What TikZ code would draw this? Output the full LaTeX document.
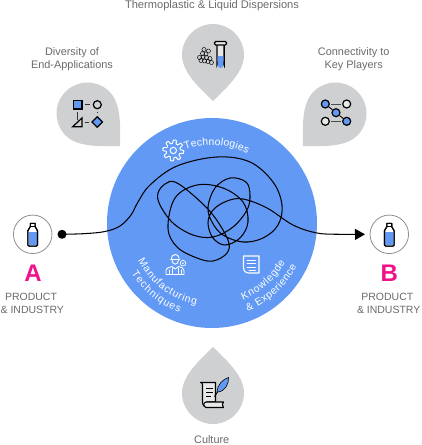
\documentclass[tikz,border=0pt]{standalone}
\usepackage{fontspec}
\setmainfont{Liberation Sans}
\usetikzlibrary{arrows.meta,decorations.text,shapes.geometric}
\definecolor{dropgray}{HTML}{CFD0D1}
\definecolor{mainblue}{HTML}{6299F5}
\definecolor{labelgray}{HTML}{6A6A6A}
\definecolor{pinkletter}{HTML}{F0128C}
\definecolor{ringgray}{HTML}{8F8F8F}
\definecolor{paperlight}{HTML}{E8E8E8}
\newcommand{\dropshape}[3]{%
  \fill[dropgray,shift={(#1,#2)},rotate=#3] (0,-46) .. controls (-12,-34) and (-31,-18) .. (-31,0)
    .. controls (-31,17) and (-17,31) .. (0,31) .. controls (17,31) and (31,17) .. (31,0)
    .. controls (31,-18) and (12,-34) .. (0,-46) -- cycle;}
\newcommand{\bottleicon}[2]{%
  \begin{scope}[shift={(#1,#2)}]
    \draw[iconline,fill=white] (-2.4,-11.3) -- (2.4,-11.3) -- (2.4,-8) -- (4.8,-4) -- (4.8,10.5) -- (3.5,11.5) -- (-3.5,11.5) -- (-4.8,10.5) -- (-4.8,-4) -- (-2.4,-8) -- cycle;
    \fill[mainblue] (-4.2,-3) rectangle (4.2,10.5);
    \draw[iconline] (-2.4,-11.3) -- (2.4,-11.3) -- (2.4,-8) -- (4.8,-4) -- (4.8,10.5) -- (3.5,11.5) -- (-3.5,11.5) -- (-4.8,10.5) -- (-4.8,-4) -- (-2.4,-8) -- cycle;
    \draw[iconline,line width=.7pt] (-2.4,-8) -- (2.4,-8);
  \end{scope}}
\newcommand{\curvedtext}[5]{% radius, from, to, size, text
  \path[decorate,decoration={text along path,text align={fit to path},
     text={|\fontsize{#4}{#4}\selectfont\color{white}|#5}}]
     plot[domain=#2:#3,samples=40] ({212+#1*cos(\x)},{223+#1*sin(\x)});}
\tikzset{
  iconline/.style={draw=black,line width=1.1pt,line join=round},
  caption/.style={text=labelgray,font=\fontsize{10.9}{12}\selectfont,inner sep=0pt},
  capscaption/.style={text=labelgray,font=\fontsize{10.5}{12}\selectfont,inner sep=0pt},
  bigletter/.style={text=pinkletter,font=\fontsize{24}{24}\selectfont\bfseries,inner sep=0pt},
  ring/.style={circle,draw=ringgray,line width=.8pt,fill=white,minimum size=38.5pt,inner sep=0pt},
  netdot/.style={circle,draw=black,line width=1.2pt,minimum size=8pt,inner sep=0pt},
  whiteline/.style={draw=white,line width=.9pt,line join=round,line cap=round},
  hexa/.style={regular polygon,regular polygon sides=6,draw=black,line width=.45pt,minimum size=4.2pt,inner sep=0pt},
}
\begin{document}
\begin{tikzpicture}[x=1pt,y=-1pt]
\useasboundingbox (0,0) rectangle (422,445);
% droplets
\dropshape{213}{55}{180}
\dropshape{87.5}{113.5}{-135}
\dropshape{335.5}{113.5}{135}
\dropshape{213}{393}{0}
% main disc
\node[circle,fill=mainblue,minimum size=210pt,inner sep=0pt] (disc) at (212,223) {};
% captions
\node[caption,font=\fontsize{11.1}{12}\selectfont] (t1) at (212,6) {Thermoplastic \& Liquid Dispersions};
\node[caption] (t2a) at (72,52.7) {Diversity of};
\node[caption] (t2b) at (72,65.7) {End-Applications};
\node[caption] (t3a) at (353.7,52.7) {Connectivity to};
\node[caption] (t3b) at (353.7,65.7) {Key Players};
\node[caption] (t4) at (211.7,439.5) {Culture};
\node[capscaption] (p1a) at (31,297.3) {PRODUCT};
\node[capscaption] (p1b) at (32.3,310.3) {\& INDUSTRY};
\node[capscaption] (p2a) at (387.3,297.3) {PRODUCT};
\node[capscaption] (p2b) at (388.7,310.3) {\& INDUSTRY};
\node[bigletter] (letterA) at (33,273.3) {A};
\node[bigletter] (letterB) at (389.3,273.3) {B};
% rings and bottles
\node[ring] (ringA) at (32.7,234.3) {};
\node[ring] (ringB) at (389.3,234.3) {};
\bottleicon{32.7}{234.6}
\bottleicon{389.3}{234.6}
% tangled line
\node[circle,fill=black,minimum size=9pt,inner sep=0pt] (startdot) at (62,234.3) {};
\coordinate (endpt) at (365,234.3);
\draw[black,line width=1.05pt,-{Triangle[length=10pt,width=11pt]}] plot[smooth,tension=.6] coordinates {
 (startdot) (85,233.6) (105,231.5) (120,226) (131,215) (138,202) (150,185) (177,166) (217,157) (250,162) (273,182) (282,205) (278,225) (263,238) (243,242) (223,235) (212,222) (208,207) (215,188) (230,178) (246,182) (250,195) (247,210) (233,227) (213,237) (193,235) (173,223) (160,205) (158,193) (165,184) (175,182) (193,195) (213,215) (228,240) (227,253) (213,261) (197,258) (177,247) (168,228) (175,198) (197,185) (223,188) (243,202) (248,222) (240,238) (225,245) (213,238) (208,223) (213,210) (227,201) (243,199) (267,208) (293,225) (317,233) (340,234.3) (endpt)};
% left network icon
\node[rectangle,draw=black,fill=mainblue,line width=1.2pt,minimum size=8.5pt,inner sep=0pt] (sq) at (77.7,104.7) {};
\node[netdot,fill=dropgray] (ci) at (97.3,104.7) {};
\node[diamond,draw=black,fill=mainblue,line width=1.2pt,minimum size=11pt,inner sep=0pt] (di) at (97.3,122) {};
\coordinate (tr) at (77.7,122);
\draw[black,line width=1.2pt,line join=miter] (72.7,126.7) -- (82,126.7) -- (82,118) -- cycle;
\draw[black!80,line width=1pt,shorten >=2.5pt,shorten <=2.5pt] (sq) -- (ci);
\draw[black!80,line width=1pt,shorten >=2pt,shorten <=2.5pt] (sq) -- (tr);
\draw[black!80,line width=1pt,shorten >=2.5pt,shorten <=2.5pt] (ci) -- (di);
\draw[black!80,line width=1pt,shorten >=2.5pt] (85,122) -- (di);
% right network icon
\node[netdot,fill=mainblue] (n1) at (325.3,104) {};
\node[netdot,fill=paperlight] (n2) at (346.7,104) {};
\node[netdot,fill=mainblue] (n3) at (336,112.7) {};
\node[netdot,fill=paperlight] (n4) at (325.3,121.3) {};
\node[netdot,fill=mainblue] (n5) at (346.7,121.3) {};
\draw[black!70,line width=1pt,shorten >=1.5pt,shorten <=1.5pt] (n1) -- (n2);
\draw[black!70,line width=1pt,shorten >=1.5pt,shorten <=1.5pt] (n4) -- (n5);
\draw[black,line width=.9pt] (n1) -- (n3);
\draw[black,line width=.9pt] (n3) -- (n5);
% top icon: molecules and tube
\foreach \hx/\hy in {201/60.5,204.5/61,208/61.5,211.5/62.5,199.5/57.5,203/57,206.5/57.5,210/58.5,202.5/53.5,206/54,208.5/51,204/49.5}{
  \node[hexa] at (\hx,\hy) {};}
\draw[black,line width=1.3pt,fill=paperlight] (216.9,44) -- (216.9,65) arc[start angle=180,end angle=360,radius=3.6] -- (224.1,44);
\fill[mainblue] (217.6,56) -- (223.4,56) -- (223.4,65) arc[start angle=0,end angle=180,radius=2.9] -- cycle;
\draw[black,line width=1.3pt,fill=paperlight,rounded corners=1.3pt] (214.5,41.5) rectangle (226.5,45);
% scroll icon
\draw[iconline,fill=paperlight] (200.5,382.5) -- (215.5,382.5) -- (215.5,402) -- (207,402) .. controls (205,402) and (204,404) .. (206,406) -- (204,406) .. controls (202.5,405) and (202.5,403) .. (202.5,401) -- (202.5,384.5) .. controls (202.5,383) and (201.5,382.5) .. (200.5,382.5) -- cycle;
\draw[iconline,fill=paperlight] (206,402) -- (223.5,402) .. controls (222,404) and (222,405) .. (223.5,407.5) -- (206,407.5) .. controls (203,406) and (203,403) .. (206,402) -- cycle;
\draw[black,line width=.9pt] (206,388) -- (213,388) (206,392) -- (213,392) (206,396.5) -- (211,396.5);
\draw[black,line width=.9pt] (214.5,396.5) -- (219,390);
\fill[mainblue,draw=black,line width=.6pt] (217,392) .. controls (217,385) and (223,379) .. (228.5,377.5) .. controls (229,384) and (225,392) .. (217,392) -- cycle;
% gear
\draw[whiteline,line width=1pt] plot[domain=0:360,samples=145] ({173.3+(8.8+1.7*min(1,max(-1,2.2*sin(8*\x+22))))*cos(\x)},{150.5+(8.8+1.7*min(1,max(-1,2.2*sin(8*\x+22))))*sin(\x)}) -- cycle;
\draw[whiteline,line width=1pt] (173.3,150.5) circle[radius=3.2];
\curvedtext{78}{250}{297}{10.4}{Technologies}
% worker icon
\begin{scope}
\draw[whiteline] (171.5,259.5) -- (171.5,258) .. controls (171.5,253.5) and (179,253.5) .. (179,258) -- (179,259.5);
\draw[whiteline] (170.5,259.5) -- (180,259.5);
\draw[whiteline] (172,260) .. controls (172,265.5) and (178.5,265.5) .. (178.5,260);
\draw[whiteline] (166,274.5) -- (166,270.5) .. controls (166,268) and (170,267) .. (172,266.5) -- (175.2,269) -- (178.5,266.5) .. controls (181,267) and (184,268) .. (184,270.5) -- (184,274.5) -- cycle;
\draw[whiteline] (172,268) -- (172,274.5) (178.5,268) -- (178.5,274.5) (169,270) -- (169,274.5) (181.5,270) -- (181.5,274.5);
\draw[whiteline,line width=.7pt] (183,263.2) circle[radius=2.8];
\fill[white] (183,263.2) circle[radius=.8];
\end{scope}
\curvedtext{83}{153}{101}{10.4}{Manufacturing}
\curvedtext{95}{148}{110}{10.4}{Techniques}
% document icon
\draw[whiteline,line width=1.1pt] (243.5,256) -- (259,256) -- (259,273) -- (249,273) .. controls (245.5,273) and (243.5,271) .. (243.5,267) -- cycle;
\draw[whiteline,line width=.8pt] (247,260) -- (255.5,260) (247,263.5) -- (255.5,263.5) (247,267) -- (255.5,267) (249,270) -- (255.5,270);
\curvedtext{83}{68}{28}{10.4}{Knowlegde}
\curvedtext{95}{68}{27}{10.4}{{\&} Experience}
\end{tikzpicture}
\end{document}
